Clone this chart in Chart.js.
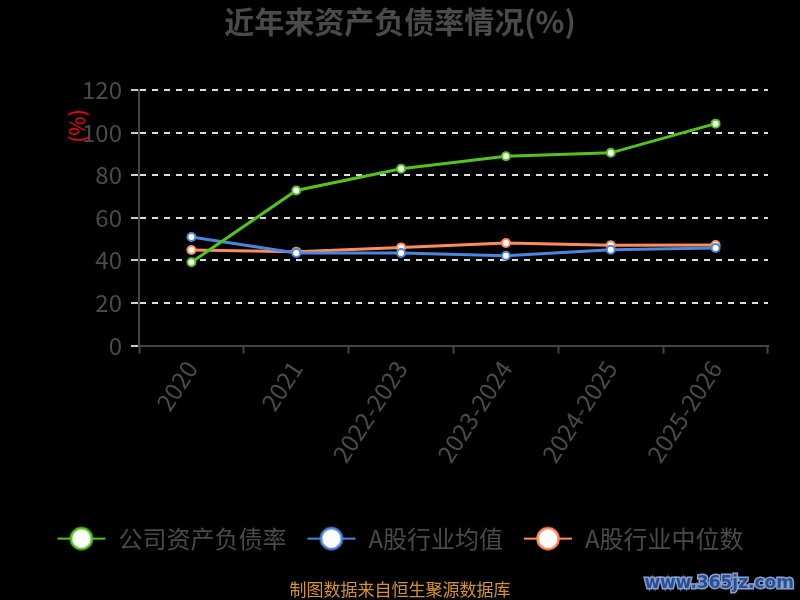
<!DOCTYPE html>
<html>
<head>
<meta charset="utf-8">
<script src="https://cdn.jsdelivr.net/npm/chart.js@4"></script>
<style>
  html, body { margin: 0; padding: 0; background: #000; }
  #wrap { width: 800px; height: 600px; }
</style>
</head>
<body>
<div id="wrap"><canvas id="fuzaiChart" width="800" height="600"></canvas></div>
<script>
// 数据
const categories = ["2020", "2021", "2022-2023", "2023-2024", "2024-2025", "2025-2026"];
const gongsiFuzhai = [39.1, 72.8, 83.0, 88.9, 90.5, 104.2];
const hangyeJunzhi = [51.0, 43.5, 43.5, 42.2, 45.0, 45.8];
const hangyeZhongwei = [44.9, 44.1, 46.1, 48.2, 47.1, 47.2];
const yTicks = [0, 20, 40, 60, 80, 100, 120];

const seriesNames = ["公司资产负债率", "A股行业均值", "A股行业中位数"];
const seriesColors = ["#52c41a", "#4a86e0", "#ff8c5a"];

const fontFam = "'Noto Sans CJK SC', 'Noto Sans', sans-serif";
const textGray = "#4a4a4a";

// 图例图标: 短线加白色圆点
const makeIcon = (color) => {
  const c = document.createElement("canvas");
  c.width = 50; c.height = 26;
  const x = c.getContext("2d");
  x.strokeStyle = color;
  x.lineWidth = 2;
  x.beginPath(); x.moveTo(1, 13); x.lineTo(49, 13); x.stroke();
  x.beginPath(); x.arc(25, 13, 10.5, 0, Math.PI * 2);
  x.fillStyle = "#fff"; x.fill();
  x.lineWidth = 2.5; x.stroke();
  return c;
};

// 单位、水印
const extraText = {
  id: "extraText",
  afterDraw(chart) {
    const ctx = chart.ctx;
    ctx.save();
    ctx.translate(77, 126);
    ctx.rotate(-Math.PI / 2);
    ctx.font = "21px " + fontFam;
    ctx.fillStyle = "#ff0000";
    ctx.textAlign = "center";
    ctx.textBaseline = "middle";
    ctx.fillText("(%)", 0, 0);
    ctx.restore();

    ctx.save();
    ctx.font = "bold 17px 'DejaVu Sans', sans-serif";
    ctx.textAlign = "right";
    ctx.textBaseline = "middle";
    ctx.lineWidth = 3;
    ctx.strokeStyle = "#8aa0c8";
    ctx.strokeText("www.365jz.com", 794, 584);
    ctx.fillStyle = "#2a4f9a";
    ctx.fillText("www.365jz.com", 794, 584);
    ctx.restore();
  },
};

const datasets = [gongsiFuzhai, hangyeJunzhi, hangyeZhongwei].map((data, i) => ({
  label: seriesNames[i],
  data: data,
  borderColor: seriesColors[i],
  backgroundColor: "#fff",
  borderWidth: 3,
  pointRadius: 4,
  pointBorderWidth: 2,
  pointBackgroundColor: "#fff",
  pointBorderColor: seriesColors[i],
  pointStyle: "circle",
  tension: 0,
}));

new Chart(document.getElementById("fuzaiChart").getContext("2d"), {
  type: "line",
  data: { labels: categories, datasets: datasets },
  options: {
    responsive: false,
    animation: false,
    layout: { padding: { left: 32, right: 32, top: 4, bottom: 0 } },
    plugins: {
      title: {
        display: true,
        text: "近年来资产负债率情况(%)",
        color: textGray,
        font: { family: fontFam, size: 30, weight: "bold" },
        padding: { top: 0, bottom: 50 },
      },
      subtitle: {
        display: true,
        position: "bottom",
        text: "制图数据来自恒生聚源数据库",
        color: "#d4952b",
        font: { family: fontFam, size: 17 },
        padding: { top: 19, bottom: 0 },
      },
      legend: {
        position: "bottom",
        labels: {
          color: textGray,
          font: { family: fontFam, size: 24 },
          usePointStyle: true,
          pointStyleWidth: 50,
          boxHeight: 26,
          padding: 20,
          generateLabels: (chart) =>
            chart.data.datasets.map((ds, i) => ({
              text: ds.label,
              fontColor: textGray,
              pointStyle: makeIcon(seriesColors[i]),
              datasetIndex: i,
              hidden: false,
              lineWidth: 0,
            })),
        },
      },
      tooltip: { enabled: false },
    },
    scales: {
      x: {
        offset: true,
        afterFit: (axis) => {
          axis.height += 37;
        },
        grid: {
          display: true,
          offset: true,
          drawOnChartArea: false,
          drawTicks: true,
          tickLength: 8,
          tickColor: "#444",
          tickWidth: 2,
        },
        border: { color: "#444", width: 2 },
        ticks: {
          color: textGray,
          font: { family: fontFam, size: 24 },
          minRotation: 57,
          maxRotation: 57,
          padding: 2,
        },
      },
      y: {
        min: 0,
        max: 120,
        afterFit: (axis) => {
          axis.width = 107;
        },
        afterBuildTicks: (axis) => {
          axis.ticks = yTicks.map((v) => ({ value: v }));
        },
        grid: {
          color: "#dddddd",
          lineWidth: 2,
          tickColor: "#cccccc",
          tickLength: 8,
          tickBorderDash: [],
          drawTicks: true,
        },
        border: { color: "#444", width: 2, dash: [6, 6] },
        ticks: {
          color: textGray,
          font: { family: fontFam, size: 24 },
          padding: 9,
        },
      },
    },
  },
  plugins: [extraText],
});
</script>
</body>
</html>
